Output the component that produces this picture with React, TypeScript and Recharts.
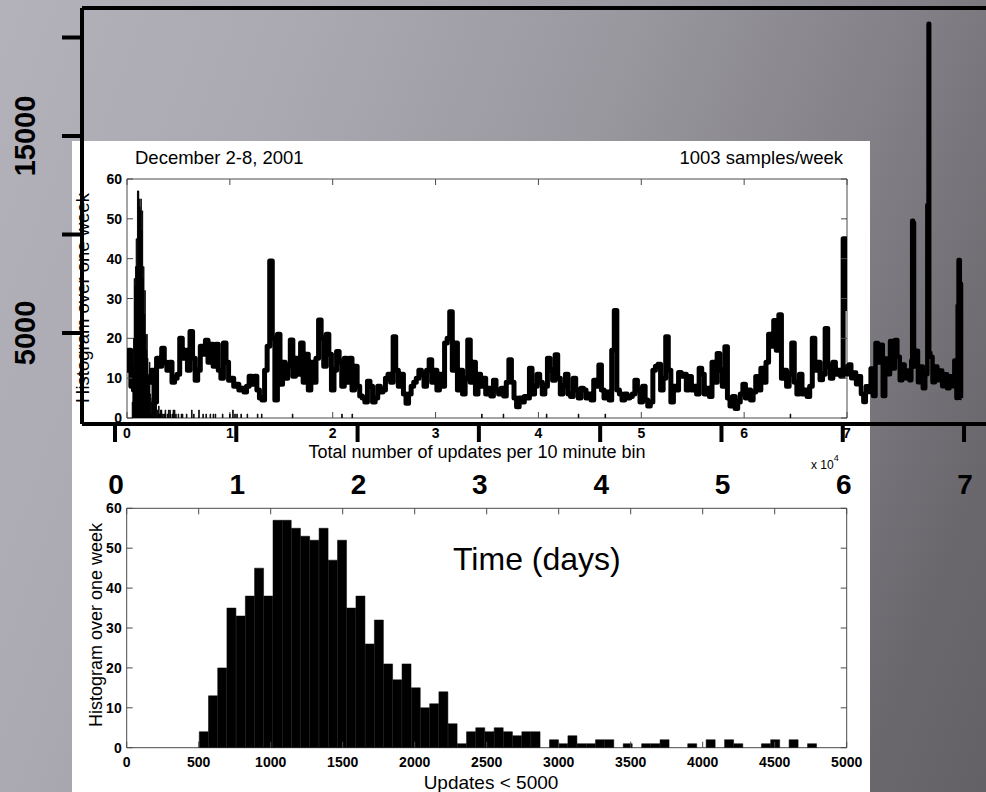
import React from 'react';
import { LineChart, Line, XAxis, YAxis, BarChart, Bar, ReferenceArea, ReferenceLine } from 'recharts';

const FONT = '"Liberation Sans", Arial, Helvetica, sans-serif';
const W = 986;
const H = 792;

// ---------- background chart: updates per 10-min bin vs time (days), visible tail ----------
const bigDays = [
  6.02, 6.04, 6.06, 6.08, 6.1, 6.12, 6.14, 6.16, 6.18, 6.2, 6.22, 6.24, 6.26, 6.28, 6.3, 6.32, 6.34, 6.36, 6.38, 6.4,
  6.42, 6.44, 6.46, 6.48, 6.5, 6.52, 6.54, 6.56, 6.57, 6.575, 6.585, 6.59, 6.61, 6.63, 6.65, 6.67, 6.69, 6.705, 6.71, 6.715,
  6.73, 6.75, 6.77, 6.79, 6.81, 6.83, 6.85, 6.87, 6.89, 6.91, 6.93, 6.945, 6.95, 6.96, 6.97, 6.98,
];
const bigUpdates = [
  3300, 2900, 3400, 2700, 3000, 2400, 2800, 1900, 1500, 2300, 2000, 3200, 1800, 4490, 3500, 4400, 1800, 3700, 2900, 4600,
  3200, 4650, 3800, 2600, 3400, 2700, 3100, 2600, 3600, 10700, 10600, 3300, 4100, 2500, 3300, 2200, 2900, 11500, 20700, 4000,
  3800, 2500, 3300, 2600, 3100, 2300, 2900, 2200, 2800, 2300, 3600, 1700, 6400, 8700, 7500, 1700,
];
const dayTicks = [0, 1, 2, 3, 4, 5, 6, 7];
const bigYTicks = [5000, 10000, 15000, 20000];
const bigYLabelled = [5000, 15000];

// ---------- inset 1: time series (x in units of 10^4) ----------
const innerU = [
  0, 0.025, 0.05, 0.075, 0.1, 0.125, 0.15, 0.175, 0.2, 0.225, 0.25, 0.275, 0.3, 0.325, 0.35, 0.375, 0.4, 0.425, 0.45, 0.475,
  0.5, 0.525, 0.55, 0.575, 0.6, 0.625, 0.65, 0.675, 0.7, 0.725, 0.75, 0.775, 0.8, 0.825, 0.85, 0.875, 0.9, 0.925, 0.95, 0.975,
  1, 1.025, 1.05, 1.075, 1.1, 1.125, 1.15, 1.175, 1.2, 1.225, 1.25, 1.275, 1.3, 1.325, 1.35, 1.375, 1.4, 1.425, 1.45, 1.475,
  1.5, 1.525, 1.55, 1.575, 1.6, 1.625, 1.65, 1.675, 1.7, 1.725, 1.75, 1.775, 1.8, 1.825, 1.85, 1.875, 1.9, 1.925, 1.95, 1.975,
  2, 2.025, 2.05, 2.075, 2.1, 2.125, 2.15, 2.175, 2.2, 2.225, 2.25, 2.275, 2.3, 2.325, 2.35, 2.375, 2.4, 2.425, 2.45, 2.475,
  2.5, 2.525, 2.55, 2.575, 2.6, 2.625, 2.65, 2.675, 2.7, 2.725, 2.75, 2.775, 2.8, 2.825, 2.85, 2.875, 2.9, 2.925, 2.95, 2.975,
  3, 3.025, 3.05, 3.075, 3.1, 3.125, 3.15, 3.175, 3.2, 3.225, 3.25, 3.275, 3.3, 3.325, 3.35, 3.375, 3.4, 3.425, 3.45, 3.475,
  3.5, 3.525, 3.55, 3.575, 3.6, 3.625, 3.65, 3.675, 3.7, 3.725, 3.75, 3.775, 3.8, 3.825, 3.85, 3.875, 3.9, 3.925, 3.95, 3.975,
  4, 4.025, 4.05, 4.075, 4.1, 4.125, 4.15, 4.175, 4.2, 4.225, 4.25, 4.275, 4.3, 4.325, 4.35, 4.375, 4.4, 4.425, 4.45, 4.475,
  4.5, 4.525, 4.55, 4.575, 4.6, 4.625, 4.65, 4.675, 4.7, 4.725, 4.75, 4.775, 4.8, 4.825, 4.85, 4.875, 4.9, 4.925, 4.95, 4.975,
  5, 5.025, 5.05, 5.075, 5.1, 5.125, 5.15, 5.175, 5.2, 5.225, 5.25, 5.275, 5.3, 5.325, 5.35, 5.375, 5.4, 5.425, 5.45, 5.475,
  5.5, 5.525, 5.55, 5.575, 5.6, 5.625, 5.65, 5.675, 5.7, 5.725, 5.75, 5.775, 5.8, 5.825, 5.85, 5.875, 5.9, 5.925, 5.95, 5.975,
  6, 6.025, 6.05, 6.075, 6.1, 6.125, 6.15, 6.175, 6.2, 6.225, 6.25, 6.275, 6.3, 6.325, 6.35, 6.375, 6.4, 6.425, 6.45, 6.475,
  6.5, 6.525, 6.55, 6.575, 6.6, 6.625, 6.65, 6.675, 6.7, 6.725, 6.75, 6.775, 6.8, 6.825, 6.85, 6.875, 6.9, 6.925, 6.95, 6.975, 7,
];
const innerV = [
  12, 17, 8, 7, 9, 6, 8, 7, 10, 9, 12, 4, 15, 13, 17.5, 14, 12, 14, 9, 10,
  11, 20, 15, 17, 12, 21.7, 15, 9.5, 12, 18, 16, 19.5, 14, 18.5, 13, 18.5, 12, 10, 18.8, 14,
  9.5, 10, 8, 8.5, 7, 7.5, 6.5, 8, 10.5, 8.5, 10.5, 7, 5, 4.5, 12, 18, 39.4, 20, 4.5, 21,
  8.5, 14, 10, 13, 19.6, 10.5, 15, 11, 18.8, 9, 16, 7, 14, 9, 15, 24.6, 20, 13, 21, 16,
  7, 12, 16.7, 14, 8, 15, 9, 15, 7, 13, 8, 5.5, 5, 4, 9.2, 8, 4, 5, 8, 6.5,
  7, 10, 11, 9, 20.4, 12, 8, 11, 6, 3.7, 6, 8, 9, 10, 12, 11, 8, 12, 14.6, 9,
  12, 7, 11, 8, 18.8, 20, 26.7, 12, 18.8, 7, 12, 6, 10, 19.6, 9, 14, 6, 11, 8, 10,
  6, 7.5, 5.5, 9.5, 7, 6, 7.5, 5.5, 9, 14.6, 9, 5, 2.8, 5, 4, 5.4, 5, 12.5, 6, 8,
  11, 9, 6, 8, 15, 12, 9.5, 15.9, 10, 6, 8, 11, 6, 5.4, 10, 7, 5, 7.5, 7, 5,
  6, 4.5, 9.5, 8, 13.3, 7, 5, 6.5, 4.5, 17, 27, 7, 6, 4.5, 6, 5, 5.4, 6, 9.5, 7,
  4, 8, 4.5, 3, 4, 12, 13, 13.5, 7, 10, 20.4, 12, 4, 8, 7, 11.4, 10.5, 11, 7, 10.4,
  7, 8, 6, 12.5, 11, 6, 7.5, 5.4, 14, 9, 16.2, 12, 8, 17.9, 5, 3, 5.4, 2.4, 4, 6,
  8.5, 5, 7, 4.5, 6.5, 10.4, 7, 12.5, 9, 14, 21, 18, 24.5, 17, 25.9, 10, 12, 8, 11, 18.8,
  9, 6, 11, 6, 7, 5.4, 8, 20, 12, 14, 9.6, 11, 22.5, 13, 10, 14, 11, 12, 10.5, 45, 27.5,
];
const innerXTicks = [0, 1, 2, 3, 4, 5, 6, 7];
const countTicks = [0, 10, 20, 30, 40, 50, 60];

// ---------- histogram of updates per bin ----------
const binWidth = 64;
const binStarts = [
  504, 568, 632, 696, 760, 824, 888, 952, 1016, 1080, 1144, 1208, 1272, 1336, 1400, 1464, 1528, 1592, 1656, 1720,
  1784, 1848, 1912, 1976, 2040, 2104, 2168, 2232, 2296, 2360, 2424, 2488, 2552, 2616, 2680, 2744, 2808, 2872, 2936, 3000,
  3064, 3128, 3192, 3256, 3320, 3384, 3448, 3512, 3576, 3640, 3704, 3768, 3832, 3896, 3960, 4024, 4088, 4152, 4216, 4280,
  4344, 4408, 4472, 4536, 4600, 4664, 4728,
];
const binCounts = [
  4, 13, 20, 35, 33, 38, 45, 38, 57, 57, 55, 53, 52, 55, 47, 52, 35, 38, 26, 32,
  21, 17, 21, 15, 10, 11, 14, 6, 1, 4, 5, 4, 5, 4, 3, 4, 4, 0, 2, 1,
  3, 1, 1, 2, 2, 0, 1, 0, 1, 1, 2, 0, 0, 1, 0, 2, 0, 2, 1, 0,
  0, 1, 2, 0, 2, 0, 1,
];
// sparse large-count bins shown only in the upper inset (x in units of 10^4)
const outlierU = [
  0.5, 0.53, 0.54, 0.58, 0.63, 0.65, 0.7, 0.74, 0.77, 0.81, 0.84, 0.86, 0.93, 1.0, 1.03, 1.05, 1.07, 1.11, 1.17, 1.27,
  1.31, 1.61, 2.09, 2.19, 3.45, 3.66, 4.08, 4.39, 4.65, 6.45,
];
const outlierCounts = [
  1, 1, 1, 1, 2, 1, 2, 1, 1, 1, 1, 1, 1, 1, 2, 1, 1, 1, 1, 1,
  1, 1, 1, 1, 1, 1, 1, 1, 1, 1,
];
const updateTicks = [0, 500, 1000, 1500, 2000, 2500, 3000, 3500, 4000, 4500, 5000];

// ---------- derived tables ----------
const bigData = bigDays.map((d, i) => ({ d, v: bigUpdates[i] }));
const innerData = innerU.map((u, i) => ({ u, v: innerV[i] }));
const topHistData = [
  ...binStarts.map((s, i) => ({ u: (s + binWidth / 2) / 10000, c: binCounts[i] })),
  ...outlierU.map((u, i) => ({ u, c: outlierCounts[i] })),
].sort((a, b) => a.u - b.u);
const bottomHistData = binStarts.map((s, i) => ({ x: s + binWidth / 2, c: binCounts[i] }));

// ---------- layout ----------
const BIG = { left: 82, top: 8, right: W, bottom: 424 };
const IN1 = { left: 127, top: 179, right: 847, bottom: 418 };
const IN2 = { left: 126.7, top: 508.3, right: 846.7, bottom: 747.7 };
// axes are 1px thick (XAxis height / YAxis width), so margins leave room for them
const margins = (r: { left: number; top: number; right: number; bottom: number }) => ({
  left: r.left - 1,
  top: r.top,
  right: W - r.right,
  bottom: H - r.bottom - 1,
});

const BOX = '#4a4a4a';

const makeXTick = (top: number, dy: number) => (p: any) => (
  <g>
    <line x1={p.x} x2={p.x} y1={p.y} y2={p.y - 6} stroke={BOX} strokeWidth={1} />
    <line x1={p.x} x2={p.x} y1={top} y2={top + 6} stroke={BOX} strokeWidth={1} />
    <text x={p.x} y={p.y + dy} textAnchor="middle" fontSize={14} fontWeight="bold" fontFamily={FONT} fill="#000">
      {p.payload.value}
    </text>
  </g>
);
const makeYTick = (right: number) => (p: any) => (
  <g>
    <line x1={p.x} x2={p.x + 6} y1={p.y} y2={p.y} stroke={BOX} strokeWidth={1} />
    <line x1={right} x2={right - 6} y1={p.y} y2={p.y} stroke={BOX} strokeWidth={1} />
    <text x={p.x - 5} y={p.y + 5} textAnchor="end" fontSize={14} fontWeight="bold" fontFamily={FONT} fill="#000">
      {p.payload.value}
    </text>
  </g>
);

const BigXTick = (p: any) => (
  <text x={p.x + 1} y={p.y + 52} textAnchor="middle" fontSize={28} fontWeight="bold" fontFamily={FONT} fill="#000">
    {p.payload.value}
  </text>
);
const BigYTick = (p: any) => {
  const v = p.payload.value;
  if (!bigYLabelled.includes(v)) return <g />;
  return (
    <text
      transform={`translate(${p.x - 27}, ${p.y}) rotate(-90)`}
      textAnchor="middle"
      fontSize={29}
      fontWeight="bold"
      fontFamily={FONT}
      fill="#000"
    >
      {v}
    </text>
  );
};

const layer: React.CSSProperties = { position: 'absolute', left: 0, top: 0 };

export default function App() {
  return (
    <div
      style={{
        position: 'absolute',
        left: 0,
        top: 0,
        width: W,
        height: H,
        overflow: 'hidden',
        background:
          'linear-gradient(110deg, #b3b1b9 0%, #aaa8b0 25%, #9a989f 50%, #838187 72%, #6a686d 90%, #636166 100%)',
      }}
    >
      {/* white inset panel */}
      <div style={{ position: 'absolute', left: 72, top: 141, width: 798, height: H - 141, background: '#ffffff' }} />

      {/* inset 1: line */}
      <div style={layer}>
        <LineChart width={W} height={H} data={innerData} margin={margins(IN1)}>
          <XAxis
            type="number"
            dataKey="u"
            domain={[0, 7]}
            allowDataOverflow
            ticks={innerXTicks}
            interval={0}
            height={1}
            tickSize={0}
            tickMargin={0}
            axisLine={false}
            tickLine={false}
            tick={makeXTick(IN1.top, 20)}
          />
          <YAxis
            type="number"
            domain={[0, 60]}
            allowDataOverflow
            ticks={countTicks}
            interval={0}
            width={1}
            tickSize={0}
            tickMargin={0}
            axisLine={false}
            tickLine={false}
            tick={makeYTick(IN1.right)}
          />
          <ReferenceArea x1={0} x2={7} y1={0} y2={60} fill="none" stroke={BOX} strokeWidth={1} ifOverflow="visible" />
          <Line
            type="step"
            dataKey="v"
            stroke="#000"
            strokeWidth={5}
            strokeLinejoin="round"
            dot={false}
            isAnimationActive={false}
          />
        </LineChart>
      </div>

      {/* inset 1: histogram bars */}
      <div style={layer}>
        <BarChart width={W} height={H} data={topHistData} margin={margins(IN1)} barCategoryGap={0} barGap={0}>
          <XAxis type="number" dataKey="u" domain={[0, 7]} allowDataOverflow height={1} axisLine={false} tickLine={false} tick={false} />
          <YAxis type="number" domain={[0, 60]} allowDataOverflow width={1} axisLine={false} tickLine={false} tick={false} />
          <Bar dataKey="c" fill="#000" stroke="#000" strokeWidth={0.8} isAnimationActive={false} />
        </BarChart>
      </div>

      {/* inset 2: histogram of updates < 5000 */}
      <div style={layer}>
        <BarChart width={W} height={H} data={bottomHistData} margin={margins(IN2)} barCategoryGap={0} barGap={0}>
          <XAxis
            type="number"
            dataKey="x"
            domain={[0, 5000]}
            allowDataOverflow
            ticks={updateTicks}
            interval={0}
            height={1}
            tickSize={0}
            tickMargin={0}
            axisLine={false}
            tickLine={false}
            tick={makeXTick(IN2.top, 19.5)}
          />
          <YAxis
            type="number"
            domain={[0, 60]}
            allowDataOverflow
            ticks={countTicks}
            interval={0}
            width={1}
            tickSize={0}
            tickMargin={0}
            axisLine={false}
            tickLine={false}
            tick={makeYTick(IN2.right)}
          />
          <ReferenceArea x1={0} x2={5000} y1={0} y2={60} fill="none" stroke={BOX} strokeWidth={1} ifOverflow="visible" />
          <Bar dataKey="c" fill="#000" stroke="#000" strokeWidth={0.5} isAnimationActive={false} />
        </BarChart>
      </div>

      {/* free text */}
      <svg width={W} height={H} style={layer} fontFamily={FONT}>
        <text x={135} y={164} fontSize={18.5} fill="#000">December 2-8, 2001</text>
        <text x={843} y={164} fontSize={18.5} fill="#000" textAnchor="end">1003 samples/week</text>
        <text transform="translate(89, 298) rotate(-90)" fontSize={18.5} fill="#000" textAnchor="middle">
          Histogram over one week
        </text>
        <text x={477} y={458} fontSize={18} fill="#000" textAnchor="middle">
          Total number of updates per 10 minute bin
        </text>
        <text x={811} y={469} fontSize={12} fill="#000">
          x 10<tspan dy={-8} fontSize={9}>4</tspan>
        </text>
        <text x={453} y={570} fontSize={32} fill="#000">Time (days)</text>
        <text transform="translate(102, 625) rotate(-90)" fontSize={18} fill="#000" textAnchor="middle">
          Histogram over one week
        </text>
        <text x={491} y={789} fontSize={19} fill="#000" textAnchor="middle">Updates &lt; 5000</text>
      </svg>

      {/* background time chart frame + visible tail, drawn on top */}
      <div style={{ ...layer, pointerEvents: 'none' }}>
        <LineChart width={W} height={H} data={bigData} margin={margins(BIG)}>
          <XAxis
            type="number"
            dataKey="d"
            domain={[-0.272, 7.181]}
            allowDataOverflow
            ticks={dayTicks}
            interval={0}
            height={1}
            tickSize={18}
            tickMargin={0}
            axisLine={{ stroke: '#000', strokeWidth: 4 }}
            tickLine={{ stroke: '#000', strokeWidth: 4 }}
            tick={BigXTick}
          />
          <YAxis
            type="number"
            domain={[381, 21497]}
            allowDataOverflow
            ticks={bigYTicks}
            interval={0}
            width={1}
            tickSize={20}
            tickMargin={0}
            axisLine={{ stroke: '#000', strokeWidth: 4 }}
            tickLine={{ stroke: '#000', strokeWidth: 4 }}
            tick={BigYTick}
          />
          <ReferenceLine y={21497} stroke="#000" strokeWidth={4} ifOverflow="visible" />
          <Line
            type="step"
            dataKey="v"
            stroke="#000"
            strokeWidth={4.5}
            strokeLinejoin="round"
            dot={false}
            isAnimationActive={false}
          />
        </LineChart>
      </div>
    </div>
  );
}
